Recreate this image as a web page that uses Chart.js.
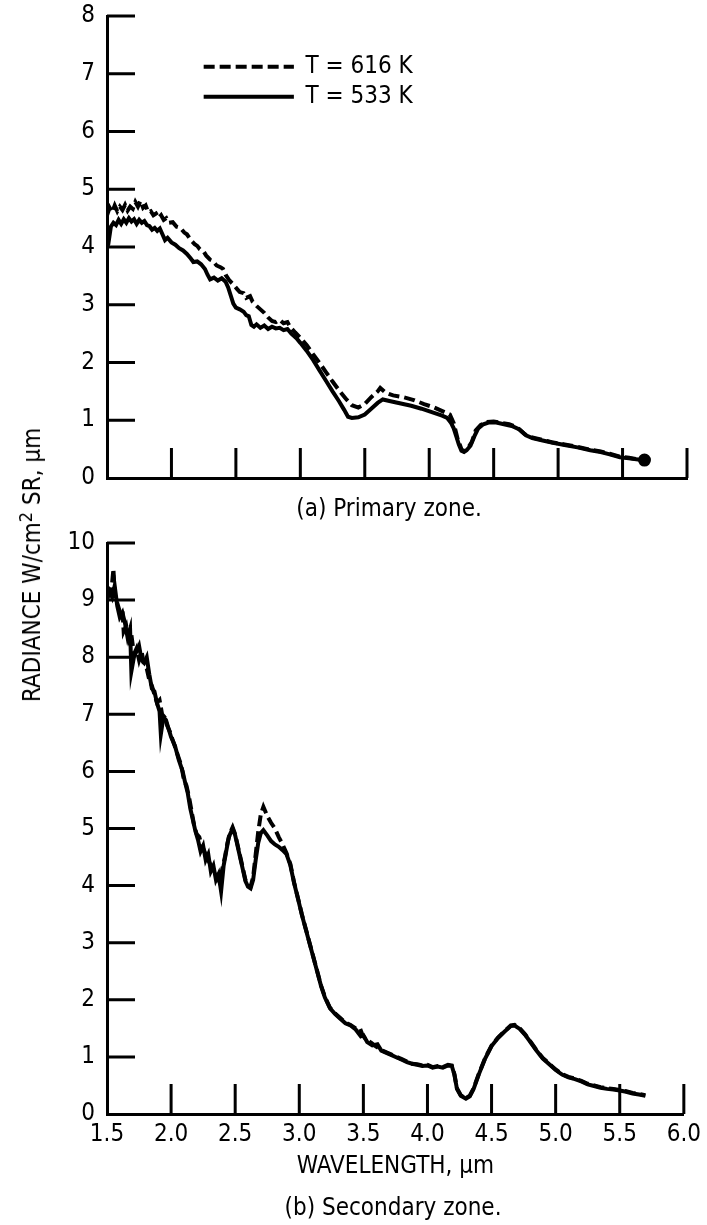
<!DOCTYPE html>
<html>
<head>
<meta charset="utf-8">
<title>Radiance spectra</title>
<script src="https://cdn.jsdelivr.net/npm/chart.js@4.4.1/dist/chart.umd.min.js"></script>
<style>
  body { margin: 0; background: #fff; }
  #page {
    position: relative; width: 707px; height: 1225px; overflow: hidden;
    font-family: 'DejaVu Sans Condensed', 'Liberation Sans', sans-serif; color: #000;
  }
  .box { position: absolute; left: 0; width: 707px; }
  #primaryBox { top: 0; height: 490px; }
  #secondaryBox { top: 520px; height: 705px; }
  .caption {
    position: absolute; transform: translateX(-50%);
    font-size: 24px; white-space: nowrap; line-height: 1;
  }
  #yTitle {
    position: absolute; left: 32px; top: 565px;
    transform: translate(-50%, -50%) rotate(-90deg);
    font-size: 24px; white-space: nowrap; line-height: 1;
  }
  #yTitle sup { font-size: 18px; vertical-align: 8px; line-height: 0; }
</style>
</head>
<body>
<div id="page">
  <div id="primaryBox" class="box"><canvas id="primaryChart"></canvas></div>
  <div id="secondaryBox" class="box"><canvas id="secondaryChart"></canvas></div>
  <div class="caption" style="left:389px; top:496px;">(a) Primary zone.</div>
  <div class="caption" style="left:393px; top:1195px;">(b) Secondary zone.</div>
  <div id="yTitle">RADIANCE W/cm<sup>2</sup> SR, µm</div>
</div>
<script>
const FONT = "'DejaVu Sans Condensed', 'Liberation Sans', sans-serif";

const labels = ['T = 616 K', 'T = 533 K'];
const xTicks = [1.5, 2.0, 2.5, 3.0, 3.5, 4.0, 4.5, 5.0, 5.5, 6.0];
const primaryYTicks = [0, 1, 2, 3, 4, 5, 6, 7, 8];
const secondaryYTicks = [0, 1, 2, 3, 4, 5, 6, 7, 8, 9, 10];

// (a) primary zone, T = 616 K
const primaryWl616 = [1.50, 1.52, 1.54, 1.56, 1.58, 1.60, 1.62, 1.64, 1.66, 1.68, 1.70, 1.72, 1.74, 1.76, 1.78, 1.80,
  1.82, 1.84, 1.86, 1.88, 1.90, 1.92, 1.94, 1.96, 1.98, 2.01, 2.04, 2.07, 2.10, 2.12, 2.15, 2.18, 2.20, 2.22, 2.25,
  2.27, 2.30, 2.32, 2.35, 2.38, 2.40, 2.42, 2.45, 2.48, 2.51, 2.53, 2.56, 2.58, 2.61, 2.63, 2.66, 2.69, 2.72, 2.75,
  2.78, 2.81, 2.84, 2.87, 2.90, 2.92, 2.96, 3.00, 3.05, 3.10, 3.15, 3.20, 3.25, 3.30, 3.35, 3.40, 3.45, 3.50, 3.55,
  3.60, 3.62, 3.66, 3.72, 3.80, 3.88, 3.96, 4.04, 4.12, 4.16, 4.19, 4.22, 4.25, 4.27, 4.30, 4.33, 4.36, 4.40, 4.45,
  4.50, 4.55, 4.62, 4.68, 4.74, 4.80, 4.88, 4.95, 5.05, 5.15, 5.25, 5.33, 5.40, 5.48, 5.55, 5.62, 5.67];
const primaryRad616 = [4.55, 4.68, 4.60, 4.72, 4.62, 4.70, 4.64, 4.73, 4.63, 4.70, 4.66, 4.78, 4.70, 4.80, 4.68, 4.72,
  4.60, 4.62, 4.55, 4.58, 4.50, 4.55, 4.47, 4.50, 4.42, 4.43, 4.35, 4.33, 4.25, 4.22, 4.12, 4.05, 4.02, 3.96, 3.92,
  3.85, 3.78, 3.76, 3.68, 3.65, 3.62, 3.52, 3.42, 3.35, 3.27, 3.22, 3.20, 3.12, 3.15, 3.05, 2.98, 2.92, 2.86, 2.78,
  2.72, 2.70, 2.74, 2.68, 2.70, 2.62, 2.52, 2.43, 2.30, 2.14, 1.99, 1.83, 1.67, 1.52, 1.38, 1.26, 1.22, 1.28, 1.40,
  1.50, 1.56, 1.48, 1.43, 1.40, 1.35, 1.28, 1.22, 1.14, 1.10, 0.95, 0.68, 0.50, 0.46, 0.52, 0.62, 0.82, 0.92, 0.97,
  0.98, 0.96, 0.93, 0.88, 0.76, 0.70, 0.66, 0.62, 0.58, 0.54, 0.49, 0.46, 0.42, 0.37, 0.35, 0.32, 0.31];

// (a) primary zone, T = 533 K
const primaryWl533 = [1.50, 1.51, 1.53, 1.55, 1.57, 1.59, 1.61, 1.63, 1.65, 1.67, 1.69, 1.71, 1.73, 1.75, 1.77, 1.79,
  1.81, 1.83, 1.85, 1.87, 1.89, 1.91, 1.93, 1.95, 1.97, 2.00, 2.03, 2.06, 2.09, 2.12, 2.15, 2.17, 2.20, 2.23, 2.26,
  2.28, 2.30, 2.33, 2.36, 2.39, 2.42, 2.44, 2.46, 2.48, 2.50, 2.53, 2.56, 2.58, 2.60, 2.62, 2.64, 2.66, 2.69, 2.72,
  2.75, 2.78, 2.81, 2.84, 2.87, 2.90, 2.93, 2.97, 3.00, 3.05, 3.10, 3.15, 3.20, 3.25, 3.30, 3.34, 3.37, 3.40, 3.45,
  3.50, 3.55, 3.60, 3.64, 3.70, 3.78, 3.86, 3.94, 4.02, 4.10, 4.14, 4.17, 4.19, 4.21, 4.23, 4.25, 4.27, 4.29, 4.32,
  4.35, 4.38, 4.42, 4.46, 4.52, 4.58, 4.64, 4.70, 4.75, 4.80, 4.88, 4.96, 5.05, 5.15, 5.25, 5.33, 5.40, 5.48, 5.55,
  5.62, 5.67];
const primaryRad533 = [4.00, 4.05, 4.35, 4.42, 4.38, 4.47, 4.40, 4.48, 4.42, 4.50, 4.44, 4.48, 4.40, 4.47, 4.42, 4.45,
  4.38, 4.36, 4.30, 4.33, 4.28, 4.32, 4.22, 4.12, 4.16, 4.08, 4.04, 3.98, 3.94, 3.88, 3.80, 3.74, 3.75, 3.70, 3.62,
  3.52, 3.44, 3.47, 3.42, 3.46, 3.40, 3.30, 3.16, 3.02, 2.95, 2.92, 2.88, 2.82, 2.80, 2.65, 2.62, 2.66, 2.60, 2.64,
  2.58, 2.62, 2.59, 2.60, 2.56, 2.58, 2.50, 2.42, 2.34, 2.20, 2.04, 1.86, 1.68, 1.50, 1.33, 1.18, 1.06, 1.04, 1.05,
  1.10, 1.20, 1.30, 1.36, 1.33, 1.29, 1.25, 1.20, 1.14, 1.08, 1.04, 0.95, 0.86, 0.72, 0.58, 0.47, 0.45, 0.48, 0.56,
  0.72, 0.86, 0.93, 0.96, 0.96, 0.93, 0.90, 0.84, 0.74, 0.69, 0.65, 0.61, 0.57, 0.53, 0.48, 0.45, 0.41, 0.36, 0.34,
  0.32, 0.31];

// (b) secondary zone, T = 616 K
const secondaryWl616 = [1.50, 1.52, 1.54, 1.55, 1.56, 1.58, 1.60, 1.62, 1.63, 1.65, 1.67, 1.69, 1.71, 1.73, 1.75, 1.77,
  1.79, 1.81, 1.83, 1.85, 1.87, 1.89, 1.91, 1.93, 1.95, 1.97, 1.99, 2.02, 2.05, 2.08, 2.10, 2.12, 2.14, 2.16, 2.18,
  2.20, 2.22, 2.24, 2.26, 2.28, 2.30, 2.32, 2.34, 2.36, 2.38, 2.40, 2.42, 2.44, 2.46, 2.48, 2.50, 2.52, 2.54, 2.56,
  2.58, 2.60, 2.62, 2.64, 2.66, 2.68, 2.70, 2.72, 2.75, 2.78, 2.81, 2.84, 2.87, 2.90, 2.93, 2.96, 2.99, 3.02, 3.05,
  3.08, 3.11, 3.14, 3.17, 3.20, 3.24, 3.28, 3.32, 3.36, 3.40, 3.44, 3.47, 3.49, 3.52, 3.56, 3.60, 3.64, 3.68, 3.72,
  3.76, 3.80, 3.84, 3.88, 3.92, 3.96, 4.00, 4.04, 4.08, 4.12, 4.16, 4.19, 4.21, 4.23, 4.26, 4.30, 4.33, 4.36, 4.40,
  4.45, 4.50, 4.55, 4.60, 4.65, 4.68, 4.72, 4.76, 4.80, 4.85, 4.90, 4.95, 5.00, 5.05, 5.10, 5.15, 5.20, 5.25, 5.30,
  5.35, 5.40, 5.45, 5.50, 5.55, 5.60, 5.65, 5.70];
const secondaryRad616 = [9.05, 9.10, 9.30, 9.55, 9.10, 8.95, 8.80, 8.85, 8.45, 8.55, 8.30, 8.40, 8.05, 8.15, 7.95, 8.10,
  7.85, 7.80, 7.60, 7.50, 7.35, 7.20, 7.25, 7.00, 6.95, 6.80, 6.70, 6.50, 6.30, 6.10, 5.85, 5.75, 5.55, 5.30, 5.05,
  4.90, 4.85, 4.70, 4.60, 4.48, 4.40, 4.30, 4.25, 4.15, 4.05, 4.30, 4.50, 4.75, 4.92, 5.02, 4.90, 4.70, 4.50, 4.30,
  4.10, 4.00, 3.98, 4.15, 4.55, 4.95, 5.25, 5.38, 5.22, 5.10, 5.00, 4.85, 4.72, 4.57, 4.38, 4.05, 3.78, 3.50, 3.25,
  3.00, 2.75, 2.50, 2.25, 2.05, 1.86, 1.76, 1.68, 1.60, 1.56, 1.50, 1.52, 1.40, 1.30, 1.25, 1.18, 1.12, 1.08, 1.04,
  1.00, 0.96, 0.92, 0.88, 0.87, 0.85, 0.86, 0.82, 0.84, 0.82, 0.86, 0.85, 0.70, 0.45, 0.33, 0.28, 0.32, 0.45, 0.70,
  0.98, 1.20, 1.34, 1.45, 1.55, 1.56, 1.50, 1.40, 1.28, 1.12, 0.98, 0.88, 0.78, 0.70, 0.65, 0.62, 0.58, 0.53, 0.50,
  0.47, 0.45, 0.44, 0.42, 0.40, 0.37, 0.35, 0.33];

// (b) secondary zone, T = 533 K
const secondaryWl533 = [1.50, 1.52, 1.54, 1.56, 1.58, 1.60, 1.62, 1.64, 1.66, 1.68, 1.69, 1.71, 1.73, 1.75, 1.77, 1.79,
  1.81, 1.83, 1.85, 1.87, 1.89, 1.91, 1.92, 1.94, 1.96, 1.98, 2.00, 2.03, 2.06, 2.09, 2.11, 2.13, 2.15, 2.17, 2.19,
  2.21, 2.23, 2.25, 2.27, 2.29, 2.31, 2.33, 2.35, 2.37, 2.39, 2.41, 2.43, 2.45, 2.48, 2.50, 2.52, 2.54, 2.56, 2.58,
  2.60, 2.62, 2.64, 2.66, 2.68, 2.70, 2.72, 2.75, 2.78, 2.81, 2.84, 2.87, 2.90, 2.93, 2.96, 2.99, 3.02, 3.05, 3.08,
  3.11, 3.14, 3.17, 3.20, 3.24, 3.28, 3.32, 3.36, 3.40, 3.44, 3.48, 3.50, 3.53, 3.57, 3.61, 3.64, 3.68, 3.72, 3.76,
  3.80, 3.84, 3.88, 3.92, 3.96, 4.00, 4.04, 4.08, 4.12, 4.16, 4.19, 4.21, 4.23, 4.26, 4.30, 4.33, 4.36, 4.40, 4.45,
  4.50, 4.55, 4.60, 4.65, 4.68, 4.72, 4.76, 4.80, 4.85, 4.90, 4.95, 5.00, 5.05, 5.10, 5.15, 5.20, 5.25, 5.30, 5.35,
  5.40, 5.45, 5.50, 5.55, 5.60, 5.65, 5.70];
const secondaryRad533 = [9.00, 9.15, 9.05, 9.25, 8.90, 8.70, 8.78, 8.60, 8.35, 8.50, 7.75, 8.00, 8.10, 8.20, 7.95, 7.90,
  8.00, 7.70, 7.45, 7.40, 7.20, 7.05, 6.65, 6.95, 6.90, 6.75, 6.60, 6.45, 6.20, 6.00, 5.80, 5.62, 5.35, 5.15, 4.95,
  4.80, 4.60, 4.70, 4.45, 4.55, 4.25, 4.35, 4.10, 4.20, 3.90, 4.35, 4.60, 4.85, 5.00, 4.88, 4.68, 4.48, 4.28, 4.08,
  3.98, 3.95, 4.10, 4.45, 4.75, 4.92, 4.97, 4.88, 4.78, 4.72, 4.68, 4.62, 4.55, 4.36, 4.04, 3.77, 3.49, 3.24, 2.99,
  2.74, 2.49, 2.24, 2.04, 1.85, 1.75, 1.67, 1.59, 1.55, 1.48, 1.36, 1.38, 1.26, 1.20, 1.22, 1.11, 1.07, 1.03, 0.99,
  0.95, 0.91, 0.88, 0.86, 0.84, 0.85, 0.81, 0.83, 0.81, 0.85, 0.84, 0.69, 0.44, 0.32, 0.27, 0.31, 0.44, 0.69, 0.97,
  1.19, 1.33, 1.44, 1.54, 1.55, 1.49, 1.39, 1.27, 1.11, 0.97, 0.87, 0.77, 0.69, 0.64, 0.61, 0.57, 0.52, 0.49, 0.46,
  0.44, 0.43, 0.41, 0.39, 0.36, 0.34, 0.32];

function toPoints(xs, ys) {
  return xs.map((x, i) => ({ x: x, y: ys[i] }));
}

// short tick marks pointing into the plot area, as on the printed figure
const innerTicks = {
  id: 'innerTicks',
  afterDraw(chart, args, opts) {
    const { ctx, chartArea: a, scales: { x, y } } = chart;
    ctx.save();
    ctx.strokeStyle = '#000';
    ctx.lineWidth = 3;
    ctx.beginPath();
    x.ticks.forEach(t => {
      if (t.value <= x.min) return;
      const px = x.getPixelForValue(t.value);
      ctx.moveTo(px, a.bottom);
      ctx.lineTo(px, a.bottom - opts.xLen);
    });
    y.ticks.forEach(t => {
      if (t.value <= y.min) return;
      const py = y.getPixelForValue(t.value);
      ctx.moveTo(a.left, py);
      ctx.lineTo(a.left + opts.yLen, py);
    });
    ctx.stroke();
    ctx.restore();
  }
};

// line-style key drawn inside the upper plot
const inlineKey = {
  id: 'inlineKey',
  afterDraw(chart, args, opts) {
    if (!opts.show) return;
    const { ctx, scales: { x, y } } = chart;
    const x0 = x.getPixelForValue(2.25), x1 = x.getPixelForValue(2.95), tx = x.getPixelForValue(3.04);
    ctx.save();
    ctx.font = '24px ' + FONT;
    ctx.fillStyle = '#000';
    ctx.textBaseline = 'middle';
    chart.data.datasets.forEach((ds, i) => {
      const py = y.getPixelForValue(i === 0 ? 7.12 : 6.6);
      ctx.strokeStyle = '#000';
      ctx.lineWidth = ds.borderWidth;
      ctx.setLineDash(ds.borderDash || []);
      ctx.beginPath();
      ctx.moveTo(x0, py);
      ctx.lineTo(x1, py);
      ctx.stroke();
      ctx.setLineDash([]);
      ctx.fillText(ds.label, tx, py);
    });
    ctx.restore();
  }
};

function makeChart(id, sets, yMax, yTicks, showXLabels) {
  return new Chart(document.getElementById(id), {
    type: 'line',
    data: {
      datasets: [{
        label: labels[0],
        data: toPoints(sets[0], sets[1]),
        borderColor: '#000',
        borderWidth: 4,
        borderDash: [11, 5],
        pointRadius: 0,
        tension: 0
      }, {
        label: labels[1],
        data: toPoints(sets[2], sets[3]),
        borderColor: '#000',
        backgroundColor: '#000',
        borderWidth: 4,
        pointRadius: ctx => (!showXLabels && ctx.dataIndex === sets[2].length - 1) ? 4.5 : 0,
        tension: 0
      }]
    },
    options: {
      responsive: true,
      maintainAspectRatio: false,
      animation: false,
      layout: {
        padding: showXLabels ? { top: 23, right: 20, bottom: 44, left: 0 } : { top: 16, right: 20, bottom: 0, left: 0 }
      },
      plugins: {
        legend: { display: false },
        tooltip: { enabled: false },
        innerTicks: { xLen: 30, yLen: 28 },
        inlineKey: { show: !showXLabels }
      },
      scales: {
        x: {
          type: 'linear',
          min: 1.5,
          max: 6.0,
          afterBuildTicks: s => { s.ticks = xTicks.map(v => ({ value: v })); },
          afterFit: s => { s.height = showXLabels ? 67 : 12; },
          grid: { display: false, drawTicks: false },
          border: { display: true, color: '#000', width: 3 },
          ticks: {
            display: showXLabels,
            color: '#000',
            padding: 6,
            maxRotation: 0,
            font: { family: FONT, size: 24 },
            callback: v => v.toFixed(1)
          },
          title: {
            display: showXLabels,
            text: 'WAVELENGTH, µm',
            color: '#000',
            padding: 0,
            font: { family: FONT, size: 24 }
          }
        },
        y: {
          min: 0,
          max: yMax,
          afterBuildTicks: s => { s.ticks = yTicks.map(v => ({ value: v })); },
          // fixed axis width; end labels may overhang the plot area
          afterFit: s => { s.width = 107; s.paddingTop = 0; s.paddingBottom = 0; },
          grid: { display: false, drawTicks: false },
          border: { display: true, color: '#000', width: 3 },
          ticks: {
            color: '#000',
            padding: 12,
            font: { family: FONT, size: 24 }
          }
        }
      }
    },
    plugins: [innerTicks, inlineKey]
  });
}

makeChart('primaryChart', [primaryWl616, primaryRad616, primaryWl533, primaryRad533], 8, primaryYTicks, false);
makeChart('secondaryChart', [secondaryWl616, secondaryRad616, secondaryWl533, secondaryRad533], 10, secondaryYTicks, true);
</script>
</body>
</html>
